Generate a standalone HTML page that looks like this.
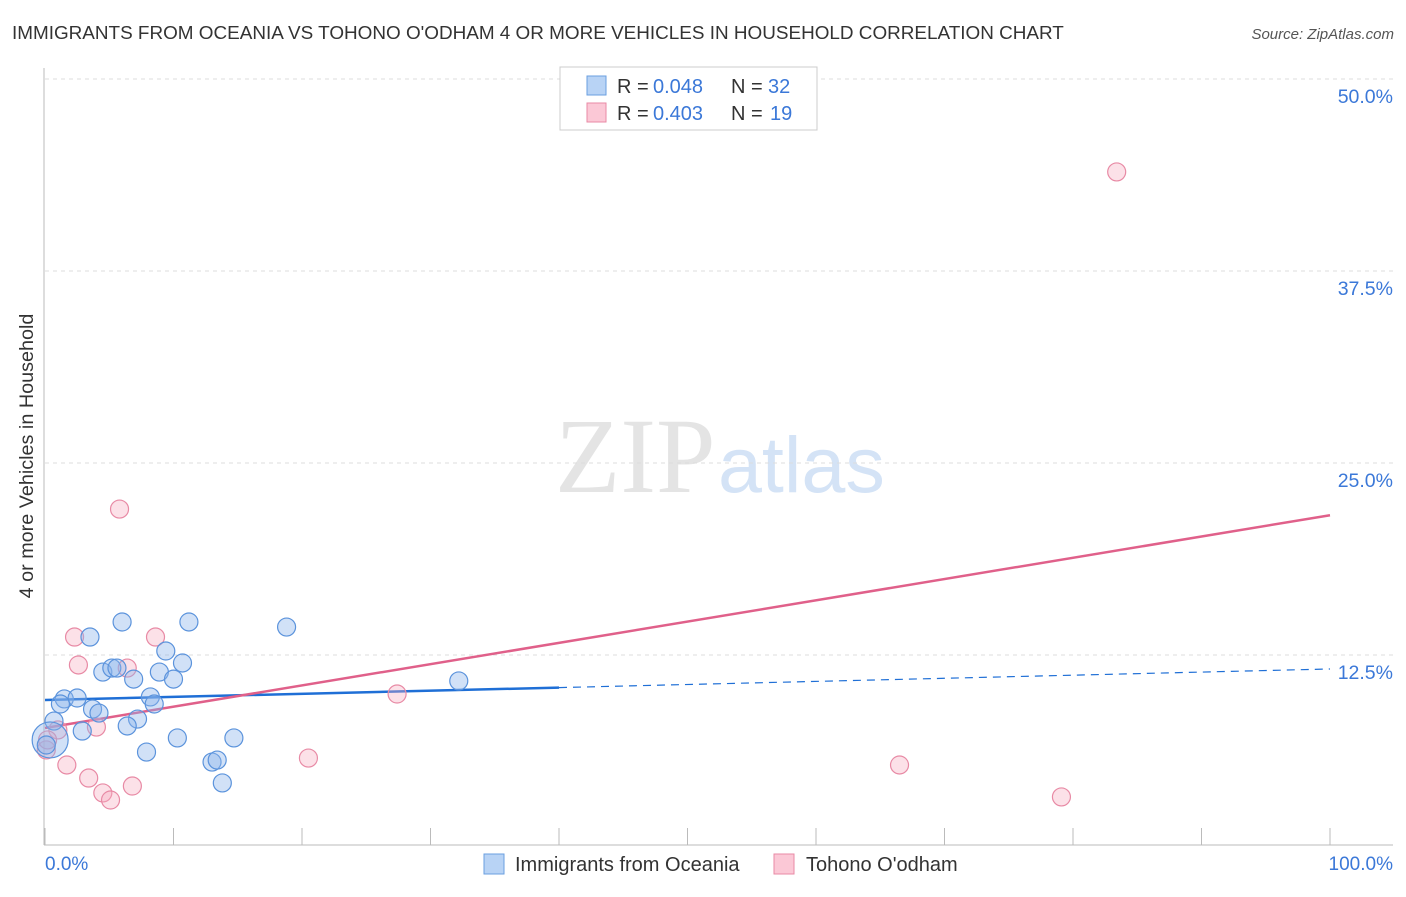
<!DOCTYPE html>
<html><head><meta charset="utf-8"><style>
body{margin:0;background:#fff;font-family:"Liberation Sans",sans-serif}
</style></head><body>
<svg width="1406" height="892" xmlns="http://www.w3.org/2000/svg" font-family="Liberation Sans, sans-serif">
<text x="12" y="39" font-size="18.9" fill="#333">IMMIGRANTS FROM OCEANIA VS TOHONO O'ODHAM 4 OR MORE VEHICLES IN HOUSEHOLD CORRELATION CHART</text>
<text x="1394" y="39" font-size="15" fill="#555" font-style="italic" text-anchor="end">Source: ZipAtlas.com</text>
<text x="33" y="456" font-size="19.8" fill="#333" text-anchor="middle" transform="rotate(-90 33 456)">4 or more Vehicles in Household</text>
<text x="555" y="492" font-size="107" fill="#e4e4e4" font-family="Liberation Serif, serif">ZIP</text>
<text x="718" y="492" font-size="79" fill="#d4e3f6">atlas</text>
<g id="grid"></g>
<line x1="44" y1="68" x2="44" y2="845" stroke="#bbb"/>
<line x1="44" y1="845" x2="1393" y2="845" stroke="#bbb"/>
<g id="xticks"></g>
<g id="lines"></g>
<g id="pts"></g>
<text x="45" y="870" font-size="19" fill="#3b78d8">0.0%</text>
<text x="1393" y="870" font-size="19" fill="#3b78d8" text-anchor="end">100.0%</text>
<g>
<rect x="560" y="67" width="257" height="63" fill="#fff" stroke="#ccc"/>
<rect x="587" y="76" width="19" height="19" fill="#b8d3f5" stroke="#6a9fe0"/>
<rect x="587" y="103" width="19" height="19" fill="#fbc8d6" stroke="#e88aa5"/>
<text x="617" y="93" font-size="20" fill="#333">R =</text>
<text x="653" y="93" font-size="20" fill="#3b78d8">0.048</text>
<text x="731" y="93" font-size="20" fill="#333">N =</text>
<text x="768" y="93" font-size="20" fill="#3b78d8">32</text>
<text x="617" y="120" font-size="20" fill="#333">R =</text>
<text x="653" y="120" font-size="20" fill="#3b78d8">0.403</text>
<text x="731" y="120" font-size="20" fill="#333">N =</text>
<text x="770" y="120" font-size="20" fill="#3b78d8">19</text>
</g>
<g>
<rect x="484" y="854" width="20" height="20" fill="#b8d3f5" stroke="#6a9fe0"/>
<text x="515" y="871" font-size="20" fill="#333">Immigrants from Oceania</text>
<rect x="774" y="854" width="20" height="20" fill="#fbc8d6" stroke="#e88aa5"/>
<text x="806" y="871" font-size="20" fill="#333">Tohono O'odham</text>
</g>
</svg>
<script>
const yTicks=[12.5,25,37.5,50];
const yTickLabels=["12.5%","25.0%","37.5%","50.0%"];
const xTicks=[0,10,20,30,40,50,60,70,80,90,100];
const blueX=[3.5,6.0,11.2,18.8,9.4,4.5,5.2,5.6,6.9,8.9,10.0,10.7,1.5,2.5,1.2,3.7,4.2,8.2,8.5,0.7,7.2,2.9,6.4,7.9,10.3,14.7,13.0,13.4,13.8,32.2,0.4,0.1];
const blueY=[13.67,14.65,14.65,14.32,12.76,11.39,11.65,11.65,10.93,11.39,10.93,11.98,9.64,9.70,9.31,8.98,8.72,9.77,9.31,8.20,8.33,7.55,7.88,6.18,7.10,7.10,5.53,5.66,4.17,10.81,6.97,6.64];
const blueSize=[1,1,1,1,1,1,1,1,1,1,1,1,1,1,1,1,1,1,1,1,1,1,1,1,1,1,1,1,1,1,2,1];
const pinkX=[5.8,83.4,2.3,8.6,2.6,6.4,4.0,1.0,1.7,3.4,4.5,5.1,6.8,20.5,27.4,66.5,79.1,0.1,0.2];
const pinkY=[22.0,43.95,13.67,13.67,11.85,11.65,7.81,7.62,5.34,4.49,3.52,3.06,3.97,5.79,9.96,5.34,3.26,6.32,6.97];
const blueTrend=[9.57,11.59];
const blueSolidEnd=40;
const pinkTrend=[7.75,21.6];
const NS="http://www.w3.org/2000/svg";
const xs=v=>45+v*12.85, ys=v=>847-v*15.36;
function mk(t,a,p){const e=document.createElementNS(NS,t);for(const k in a)e.setAttribute(k,a[k]);document.getElementById(p).appendChild(e);return e;}
yTicks.forEach((t,i)=>{
 const l=mk('line',{x1:45,x2:1393,y1:ys(t),y2:ys(t),stroke:'#ddd','stroke-dasharray':'4,4'},'grid');
 
 
 const tx=mk('text',{x:1393,y:ys(t)+24,'font-size':19.5,fill:'#3b78d8','text-anchor':'end'},'grid');
 tx.textContent=yTickLabels[i];
 
 
});
xTicks.forEach(t=>{
 const l=mk('line',{x1:xs(t),x2:xs(t),y1:828,y2:845,stroke:'#bbb'},'xticks');
 
 
});
const by=x=>blueTrend[0]+(blueTrend[1]-blueTrend[0])*x/100;
let e=mk('line',{x1:xs(0),y1:ys(by(0)),x2:xs(blueSolidEnd),y2:ys(by(blueSolidEnd)),stroke:'#1f6fd6','stroke-width':2.5},'lines');


e=mk('line',{x1:xs(blueSolidEnd),y1:ys(by(blueSolidEnd)),x2:xs(100),y2:ys(by(100)),stroke:'#1f6fd6','stroke-width':1.2,'stroke-dasharray':'8,6'},'lines');


e=mk('line',{x1:xs(0),y1:ys(pinkTrend[0]),x2:xs(100),y2:ys(pinkTrend[1]),stroke:'#e0608a','stroke-width':2.5},'lines');


pinkX.forEach((x,i)=>{
 const c=mk('circle',{cx:xs(x),cy:ys(pinkY[i]),r:9,fill:'rgba(245,170,190,0.35)',stroke:'#e88aa5','stroke-width':1.2},'pts');
 
 
});
blueX.forEach((x,i)=>{
 const c=mk('circle',{cx:xs(x),cy:ys(blueY[i]),r:9*blueSize[i],fill:'rgba(140,180,235,0.4)',stroke:'#5b93dc','stroke-width':1.2},'pts');
 
 
});
</script>
</body></html>
